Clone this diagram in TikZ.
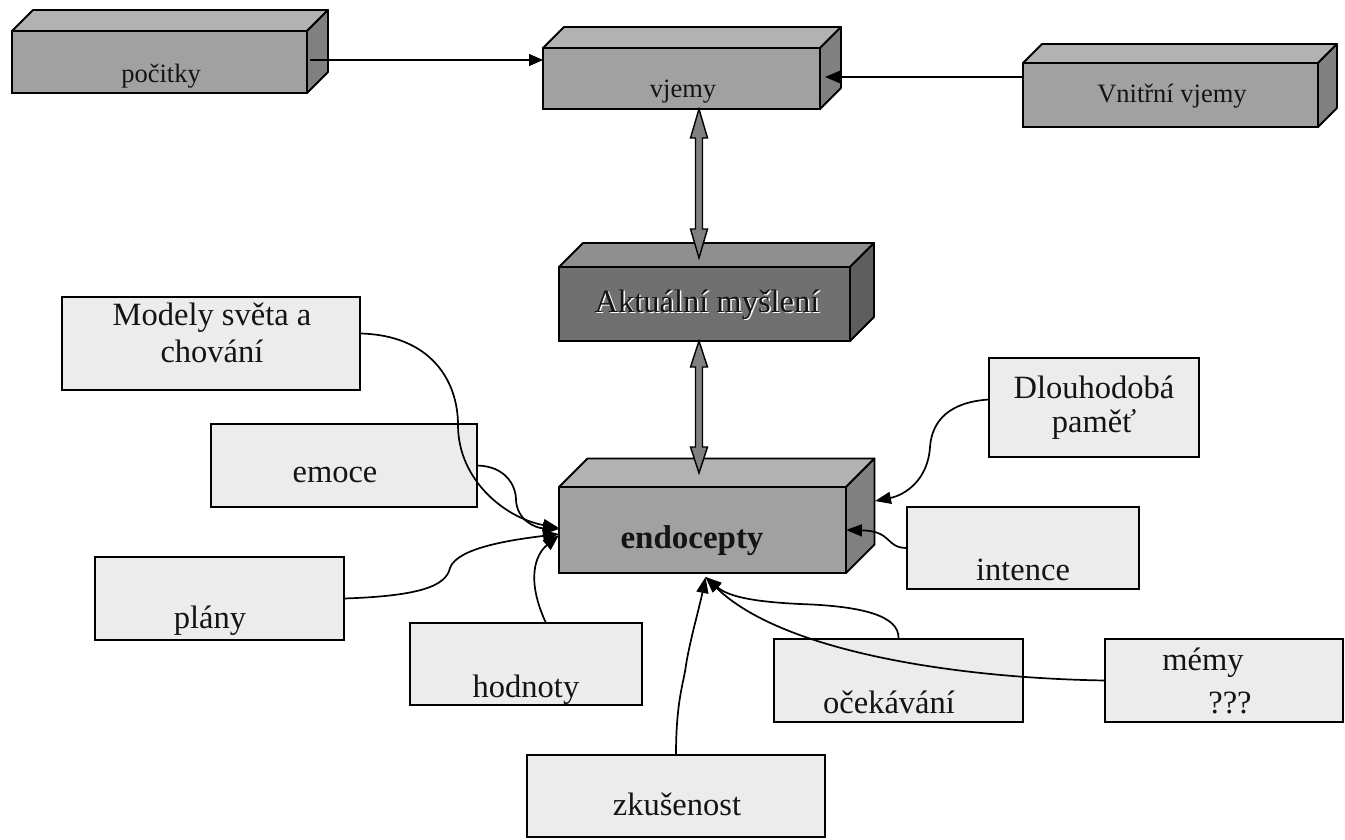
\documentclass[tikz,border=0pt]{standalone}
\usepackage{fontspec}
\setmainfont{Liberation Serif}
\usetikzlibrary{arrows.meta,calc,fit}
\definecolor{topL}{gray}{0.70}
\definecolor{frontL}{gray}{0.63}
\definecolor{sideL}{gray}{0.50}
\definecolor{topD}{gray}{0.56}
\definecolor{frontD}{gray}{0.44}
\definecolor{sideD}{gray}{0.37}
\definecolor{lightbox}{gray}{0.925}
\definecolor{arrowfill}{gray}{0.50}
\definecolor{txt}{gray}{0.08}
\newcommand{\cubefaces}[4]{%
  \draw[line width=1.8pt, line join=round, fill=#3] (#1.north west) -- ++(#2,-#2) -- ([shift={(#2,-#2)}]#1.north east) -- (#1.north east) -- cycle;
  \draw[line width=1.8pt, line join=round, fill=#4] (#1.north east) -- ++(#2,-#2) -- ([shift={(#2,-#2)}]#1.south east) -- (#1.south east) -- cycle;}
\newcommand{\dblarrow}[3]{%
  \draw[line width=1.4pt, line join=miter, fill=arrowfill] let \p1=#1, \p2=#2 in
   (\x1,\y1) -- (\x1+8.5pt,\y1-#3) -- (\x1+3.5pt,\y1-#3) -- (\x2+3.5pt,\y2+#3) -- (\x2+8.5pt,\y2+#3) -- (\x2,\y2)
   -- (\x2-8.5pt,\y2+#3) -- (\x2-3.5pt,\y2+#3) -- (\x1-3.5pt,\y1-#3) -- (\x1-8.5pt,\y1-#3) -- cycle;}
\begin{document}
\begin{tikzpicture}[x=1pt,y=-1pt,
  cube/.style={draw, line width=1.8pt, inner sep=0pt, outer sep=0pt},
  lbox/.style={draw, line width=1.8pt, fill=lightbox, inner sep=0pt, outer sep=0pt},
  big/.style={font=\fontsize{32.5}{32.5}\selectfont, anchor=base, inner sep=0pt, text=txt},
  small/.style={font=\fontsize{26.5}{26.5}\selectfont, anchor=base, inner sep=0pt, text=txt},
  conn/.style={line width=1.7pt, -{Triangle[length=16pt,width=12pt]}}]
\useasboundingbox (0,0) rectangle (1345,839);

% 3D boxes
\node[cube, fill=frontL, fit={(12,31) (307,93)}] (pocitky) {};
\cubefaces{pocitky}{21}{topL}{sideL}
\node[cube, fill=frontL, fit={(543,48) (820,109)}] (vjemy) {};
\cubefaces{vjemy}{21}{topL}{sideL}
\node[cube, fill=frontL, fit={(1023,63) (1318,127)}] (vnitrni) {};
\cubefaces{vnitrni}{19}{topL}{sideL}
\node[cube, fill=frontD, fit={(559,267) (850,341)}] (akt) {};
\cubefaces{akt}{24}{topD}{sideD}
\node[cube, fill=frontL, fit={(559,487) (846,573)}] (endo) {};
\cubefaces{endo}{28.5}{topL}{sideL}

% light boxes
\node[lbox, fit={(62,297) (360,390)}] (modely) {};
\node[lbox, fit={(211,424) (477,507)}] (emoce) {};
\node[lbox, fit={(95,557) (344,640)}] (plany) {};
\node[lbox, fit={(410,623) (642,705)}] (hodnoty) {};
\node[lbox, fit={(527,755) (825,837)}] (zkus) {};
\node[lbox, fit={(774,639) (1023,722)}] (ocek) {};
\node[lbox, fit={(1105,639) (1343,722)}] (memy) {};
\node[lbox, fit={(907,507) (1139,589)}] (intence) {};
\node[lbox, fit={(989,358) (1199,457)}] (dlouho) {};

% texts
\node[small] (t-pocitky) at (161,82) {počitky};
\node[small] (t-vjemy) at (683,97) {vjemy};
\node[small] (t-vnitrni) at (1172,102) {Vnitřní vjemy};
\node[big] (t-akt) at (707,312) {\rlap{\raisebox{-1.5pt}{\hspace{1.5pt}\color{white}Aktuální myšlení}}Aktuální myšlení};
\node[big, font=\fontsize{33}{33}\selectfont\bfseries] (t-endo) at (692,548) {endocepty};
\node[big] (t-modely1) at (212,325) {Modely světa a};
\node[big] (t-modely2) at (212,362) {chování};
\node[big] (t-emoce) at (335,482) {emoce};
\node[big] (t-plany) at (210,628) {plány};
\node[big] (t-hodnoty) at (526,697) {hodnoty};
\node[big] (t-zkus) at (677,815) {zkušenost};
\node[big] (t-ocek) at (889,713) {očekávání};
\node[big] (t-memy) at (1203,670) {mémy};
\node[big] (t-otazky) at (1230,713) {???};
\node[big] (t-intence) at (1023,580) {intence};
\node[big] (t-dlouho1) at (1094,398) {Dlouhodobá};
\node[big] (t-dlouho2) at (1094,432) {paměť};

% connectors top
\draw[line width=1.4pt, -{Triangle[length=14pt,width=12pt]}] ([xshift=3pt,yshift=2pt]pocitky.east) -- (vjemy.west |- 0,60);
\draw[line width=2pt, -{Triangle[length=16pt,width=13pt]}] (vnitrni.west |- 0,77) -- ([xshift=5pt]vjemy.east |- 0,77);

% block double arrows
\dblarrow{([xshift=-5.5pt]akt.north |- vjemy.south)}{([xshift=-5.5pt,yshift=9pt]akt.north)}{29pt}
\dblarrow{([xshift=-5.5pt]akt.south)}{([xshift=-3.5pt,yshift=14pt]endo.north)}{26pt}

% curved connectors into endocepty
\draw[conn] ([yshift=10pt]modely.east) .. controls (430,335) and (458,380) .. (458,425)
   .. controls (458,480) and (505,518) .. ([yshift=2pt]endo.west);
\draw[conn] (emoce.east) .. controls (505,466) and (516,485) .. (516,500)
   .. controls (517,520) and (535,528) .. ([yshift=1pt]endo.west);
\draw[conn] (plany.east) .. controls (420,596) and (446,586) .. (450,568)
   .. controls (457,548) and (510,540) .. ([yshift=-4pt]endo.west);
\draw[conn] ([xshift=20pt]hodnoty.north) .. controls (526,580) and (535,555) .. ([yshift=-5pt]endo.west);
\draw[conn] ([yshift=8pt]dlouho.west) .. controls (950,402) and (932,420) .. (930,447)
   .. controls (928,480) and (905,495) .. ([shift={(29pt,29pt)}]endo.east);
\draw[conn] (intence.west) .. controls (885,548) and (893,531) .. (endo.east);
\draw[conn] (zkus.north) .. controls (676,700) and (684,682) .. (686,665)
   .. controls (690,640) and (700,605) .. ([xshift=3pt,yshift=-4pt]endo.south);
\draw[conn] (ocek.north) .. controls (900,615) and (860,606) .. (800,604)
   .. controls (760,602) and (730,598) .. ([xshift=3pt,yshift=-4pt]endo.south);
\draw[conn] (memy.west) .. controls (950,678) and (780,650) .. ([xshift=3pt,yshift=-4pt]endo.south);
\end{tikzpicture}
\end{document}
